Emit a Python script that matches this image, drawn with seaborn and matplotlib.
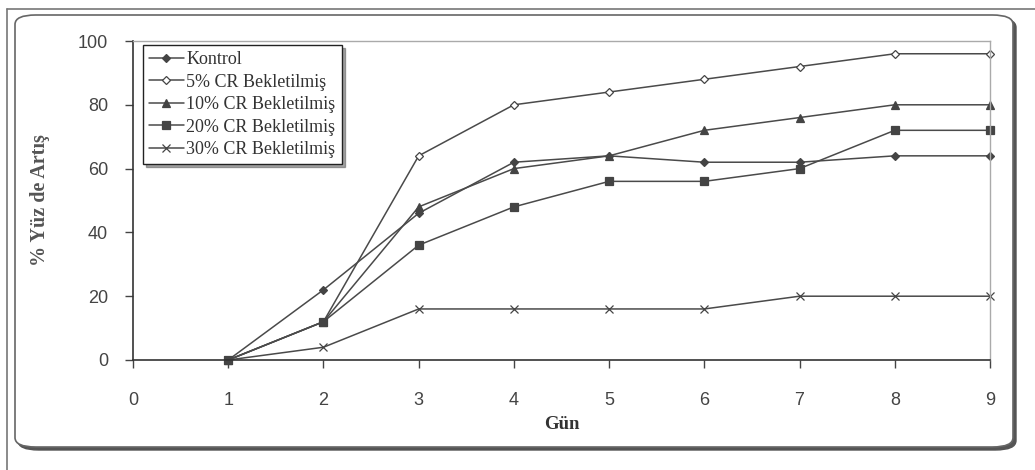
import matplotlib
matplotlib.use("Agg")
import matplotlib.pyplot as plt
import seaborn as sns
import pandas as pd
from matplotlib.patches import FancyBboxPatch
from matplotlib.lines import Line2D

# Days and percentage increase per treatment
days = [1, 2, 3, 4, 5, 6, 7, 8, 9]
kontrol = [0, 22, 46, 62, 64, 62, 62, 64, 64]
cr5 = [0, 12, 64, 80, 84, 88, 92, 96, 96]
cr10 = [0, 12, 48, 60, 64, 72, 76, 80, 80]
cr20 = [0, 12, 36, 48, 56, 56, 60, 72, 72]
cr30 = [0, 4, 16, 16, 16, 16, 20, 20, 20]

series_names = ["Kontrol", "5% CR Bekletilmiş", "10% CR Bekletilmiş",
                "20% CR Bekletilmiş", "30% CR Bekletilmiş"]
series_values = [kontrol, cr5, cr10, cr20, cr30]
x_ticks = list(range(0, 10))
y_ticks = [0, 20, 40, 60, 80, 100]

sns.set_theme(style="white")
plt.rcParams["font.family"] = ["Liberation Serif", "DejaVu Serif"]

fig = plt.figure(figsize=(10.35, 4.7), dpi=100)
fig.patch.set_facecolor("white")

# Page lines and rounded chart frame with a drop shadow
fig.add_artist(Line2D([7 / 1035, 1.0], [1 - 9 / 470, 1 - 9 / 470],
                      transform=fig.transFigure, color="#777777", lw=1.2))
fig.add_artist(Line2D([7 / 1035, 7 / 1035], [0.0, 1 - 9 / 470],
                      transform=fig.transFigure, color="#777777", lw=1.2))
fx0, fy0 = 15 / 1035, 1 - 447 / 470
fw, fh = (1013 - 15) / 1035, (447 - 15) / 470
shadow = FancyBboxPatch((fx0 + 3 / 1035, fy0 - 3 / 470), fw, fh,
                        boxstyle="round,pad=0,rounding_size=0.02",
                        transform=fig.transFigure, facecolor="#555555",
                        edgecolor="#555555", lw=1, mutation_aspect=470 / 1035 * 2.2)
frame = FancyBboxPatch((fx0, fy0), fw, fh,
                       boxstyle="round,pad=0,rounding_size=0.02",
                       transform=fig.transFigure, facecolor="white",
                       edgecolor="#666666", lw=1.2, mutation_aspect=470 / 1035 * 2.2)
fig.add_artist(shadow)
fig.add_artist(frame)

ax = fig.add_axes([133 / 1035, 1 - 360 / 470, (990 - 133) / 1035, (360 - 41) / 470])
ax.set_zorder(5)

markers = ["D", "D", "^", "s", "x"]
msizes = [3.8, 4.5, 5.5, 5.5, 5.5]
faces = ["#444444", "white", "#444444", "#444444", "#444444"]
line_color = "#4a4a4a"

for name, vals, mk, ms, fc in zip(series_names, series_values, markers, msizes, faces):
    df = pd.DataFrame({"Gün": days, "val": vals})
    sns.lineplot(data=df, x="Gün", y="val", ax=ax, color=line_color, lw=1.1,
                 marker=mk, markersize=ms, markerfacecolor=fc,
                 markeredgecolor="#444444", markeredgewidth=0.9,
                 label=name, clip_on=False)

ax.set_xlim(0, 9)
ax.set_ylim(0, 100)
ax.set_xticks(x_ticks)
ax.set_yticks(y_ticks)
ax.tick_params(axis="both", which="both", direction="out", length=6, width=1,
               color="#444444", labelsize=13, labelcolor="#444444",
               left=True, bottom=True)
ax.tick_params(axis="x", pad=17)
ax.tick_params(axis="y", pad=12)
for lab in ax.get_xticklabels() + ax.get_yticklabels():
    lab.set_fontfamily("Liberation Sans")

for side in ["left", "bottom"]:
    ax.spines[side].set_color("#333333")
    ax.spines[side].set_linewidth(1.2)
for side in ["top", "right"]:
    ax.spines[side].set_color("#aaaaaa")
    ax.spines[side].set_linewidth(1.0)

ax.set_xlabel("Gün", fontsize=13.5, fontweight="bold", color="#333333", labelpad=5)
ax.set_ylabel("% Yüz de Artış", fontsize=14.5, fontweight="bold", color="#555555",
              labelpad=20)

leg = ax.legend(loc="upper left", bbox_to_anchor=(10 / 857, 1 - 4 / 319),
                borderaxespad=0, frameon=True, fancybox=False, shadow=True,
                fontsize=13, handlelength=1.9, handletextpad=0.15,
                labelspacing=0.3, borderpad=0.35)
leg.get_frame().set_edgecolor("#222222")
leg.get_frame().set_linewidth(1.0)
for t in leg.get_texts():
    t.set_color("#333333")

fig.savefig("out.png", dpi=100, facecolor="white")
